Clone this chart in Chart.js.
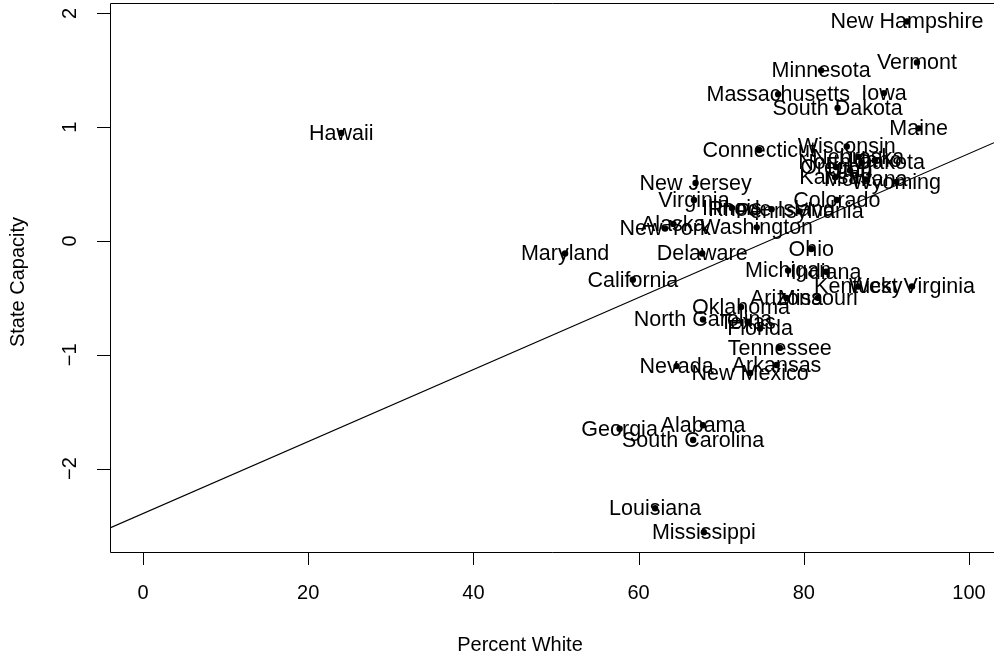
<!DOCTYPE html>
<html>
<head>
<meta charset="utf-8">
<script src="https://cdn.jsdelivr.net/npm/chart.js@4"></script>
<style>
  html, body { margin: 0; padding: 0; background: #fff; overflow: hidden; }
  canvas { display: block; }
</style>
</head>
<body>
<canvas id="chart" width="994" height="657"></canvas>
<script>
const states = ["New Hampshire", "Vermont", "Minnesota", "Iowa", "Massachusetts", "South Dakota", "Maine", "Hawaii",
    "Connecticut", "Wisconsin", "Nebraska", "North Dakota", "Idaho", "Oregon", "Utah", "Kansas", "Montana", "Wyoming",
    "New Jersey", "Virginia", "Colorado", "Illinois", "Rhode Island", "Pennsylvania", "Alaska", "New York", "Washington",
    "Maryland", "Delaware", "Ohio", "California", "Michigan", "Indiana", "Kentucky", "West Virginia", "Arizona", "Missouri",
    "Oklahoma", "North Carolina", "Texas", "Florida", "Tennessee", "Nevada", "Arkansas", "New Mexico", "Georgia", "Alabama",
    "South Carolina", "Louisiana", "Mississippi"];

const percentWhite = [92.5, 93.7, 82.1, 89.7, 76.9, 84.1, 93.9, 24.0,
    74.6, 85.2, 86.6, 87.0, 88.6, 83.9, 85.6, 83.8, 87.5, 91.2,
    66.9, 66.7, 84.0, 71.3, 76.1, 79.5, 64.2, 63.2, 74.3,
    51.1, 67.7, 80.9, 59.3, 78.1, 82.7, 86.6, 93.1, 77.9, 81.7,
    72.4, 67.8, 73.2, 74.7, 77.1, 64.6, 76.7, 73.5, 57.7, 67.8,
    66.6, 62.0, 67.9];

const stateCapacity = [1.93, 1.57, 1.50, 1.30, 1.29, 1.17, 0.99, 0.95,
    0.80, 0.83, 0.74, 0.69, 0.71, 0.65, 0.62, 0.56, 0.54, 0.52,
    0.51, 0.36, 0.36, 0.29, 0.28, 0.26, 0.15, 0.11, 0.12,
    -0.11, -0.11, -0.07, -0.34, -0.26, -0.27, -0.40, -0.40, -0.50, -0.50,
    -0.58, -0.69, -0.71, -0.77, -0.94, -1.10, -1.09, -1.16, -1.65, -1.62,
    -1.75, -2.35, -2.56];

// fitted line: capacity = intercept + slope * percentWhite
const fitIntercept = -2.396;
const fitSlope = 0.03164;

const xTicks = [0, 20, 40, 60, 80, 100];
const yTicks = [-2, -1, 0, 1, 2];
const xRange = [-4.0, 103.03];
const yRange = [-2.734, 2.092];

const FONT = '20px "Liberation Sans", Arial, sans-serif';
const LABEL_FONT = '21.5px "Liberation Sans", Arial, sans-serif';

const points = states.map((s, i) => ({ x: percentWhite[i], y: stateCapacity[i] }));
const fitLine = xRange.map(x => ({ x, y: fitIntercept + fitSlope * x }));

const stateLabels = {
    id: "stateLabels",
    afterDatasetsDraw(chart) {
        const ctx = chart.ctx;
        const meta = chart.getDatasetMeta(0);
        ctx.save();
        ctx.font = LABEL_FONT;
        ctx.fillStyle = "#000";
        ctx.textAlign = "center";
        ctx.textBaseline = "middle";
        meta.data.forEach((pt, i) => ctx.fillText(states[i], pt.x, pt.y + 1));
        ctx.restore();
    }
};

const rAxes = {
    id: "rAxes",
    afterDraw(chart) {
        const ctx = chart.ctx;
        const { left, right, top, bottom } = chart.chartArea;
        const xs = chart.scales.x, ys = chart.scales.y;
        ctx.save();
        ctx.strokeStyle = "#000";
        ctx.lineWidth = 1;
        ctx.beginPath();
        ctx.moveTo(right + 1, top + 0.5);
        ctx.lineTo(left + 0.5, top + 0.5);
        ctx.lineTo(left + 0.5, bottom + 0.5);
        ctx.lineTo(right + 1, bottom + 0.5);
        ctx.stroke();

        ctx.font = FONT;
        ctx.fillStyle = "#000";

        // x axis
        ctx.beginPath();
        xTicks.forEach(v => {
            const px = Math.round(xs.getPixelForValue(v)) + 0.5;
            ctx.moveTo(px, bottom);
            ctx.lineTo(px, bottom + 13);
        });
        ctx.stroke();
        ctx.textAlign = "center";
        ctx.textBaseline = "middle";
        xTicks.forEach(v => ctx.fillText(String(v), xs.getPixelForValue(v), 593));
        ctx.fillText("Percent White", (left + right) / 2 - 32, 645);

        // y axis
        ctx.beginPath();
        yTicks.forEach(v => {
            const py = Math.round(ys.getPixelForValue(v)) + 0.5;
            ctx.moveTo(left, py);
            ctx.lineTo(left - 13, py);
        });
        ctx.stroke();
        yTicks.forEach(v => {
            ctx.save();
            ctx.translate(70, ys.getPixelForValue(v));
            ctx.rotate(-Math.PI / 2);
            ctx.fillText(v < 0 ? "\u2212" + Math.abs(v) : String(v), 0, 0);
            ctx.restore();
        });
        ctx.save();
        ctx.translate(18, 282);
        ctx.rotate(-Math.PI / 2);
        ctx.fillText("State Capacity", 0, 0);
        ctx.restore();
        ctx.restore();
    }
};

new Chart(document.getElementById("chart"), {
    type: "scatter",
    data: {
        datasets: [
            {
                data: points,
                pointRadius: 3.2,
                pointHoverRadius: 3.2,
                pointBackgroundColor: "#000",
                pointBorderWidth: 0,
                showLine: false
            },
            {
                data: fitLine,
                showLine: true,
                borderColor: "#000",
                borderWidth: 1.2,
                pointRadius: 0,
                fill: false
            }
        ]
    },
    options: {
        responsive: false,
        animation: false,
        events: [],
        layout: { autoPadding: false, padding: { top: 3, right: 0, left: 0, bottom: 0 } },
        plugins: { legend: { display: false }, tooltip: { enabled: false } },
        scales: {
            x: {
                type: "linear",
                min: xRange[0],
                max: xRange[1],
                grid: { display: false },
                border: { display: false },
                ticks: { display: false },
                afterFit: s => { s.height = 105; }
            },
            y: {
                type: "linear",
                min: yRange[0],
                max: yRange[1],
                grid: { display: false },
                border: { display: false },
                ticks: { display: false },
                afterFit: s => { s.width = 110; }
            }
        }
    },
    plugins: [stateLabels, rAxes]
});
</script>
</body>
</html>
